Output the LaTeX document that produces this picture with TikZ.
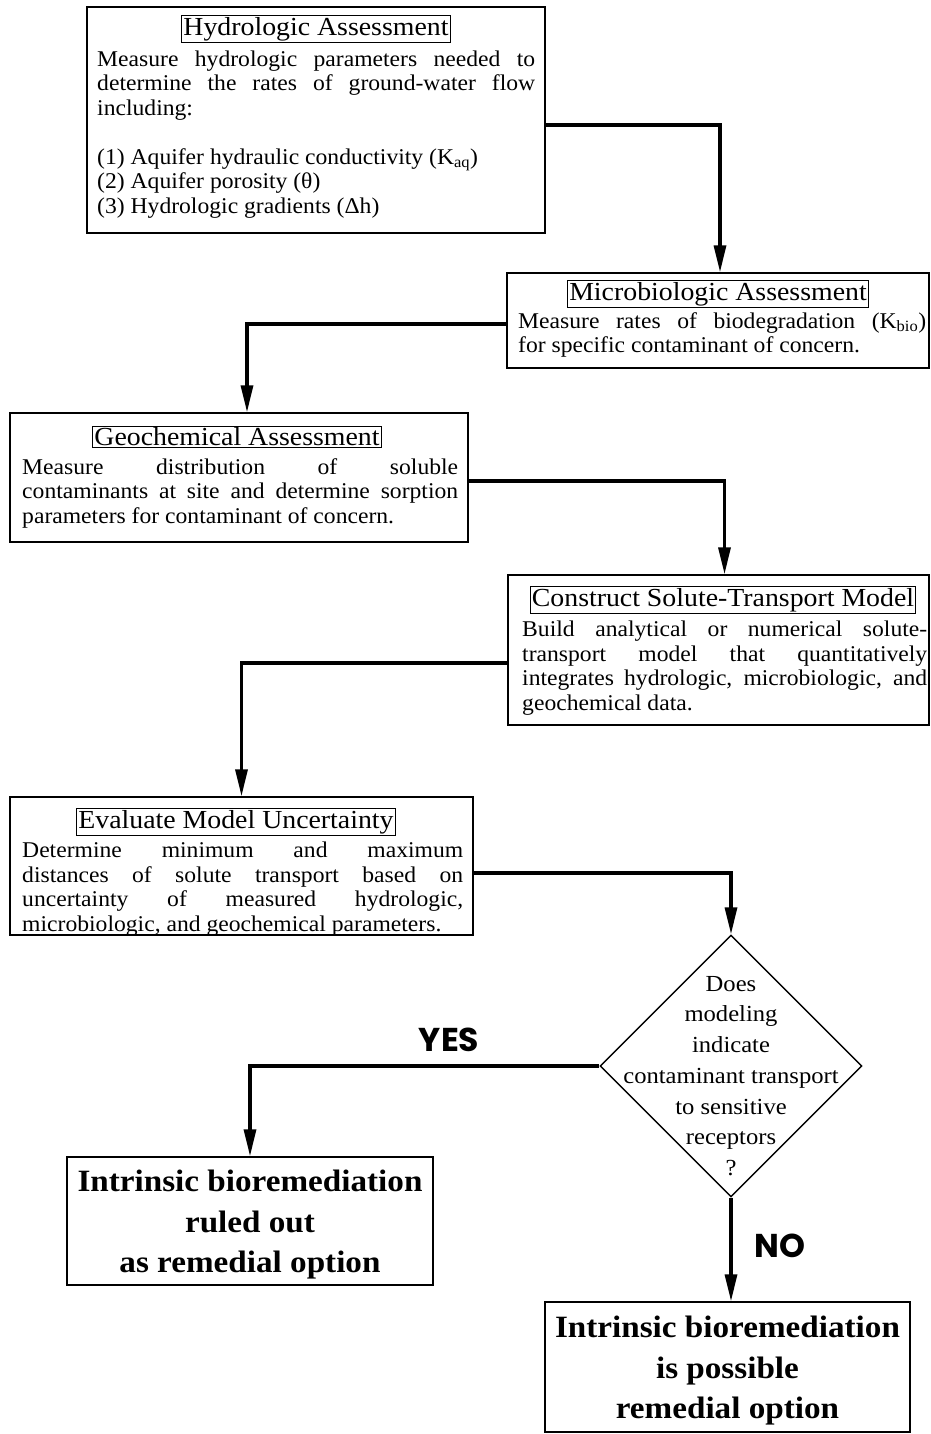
\documentclass[tikz,border=0pt]{standalone}
\usepackage{fontspec}
\setmainfont{Liberation Serif}
\newfontfamily\wideserif[FakeStretch=1.07]{Liberation Serif}
\newfontfamily\bodyserif[FakeStretch=1.05]{Liberation Serif}
\newfontfamily\labelfont{Poppins}
\usetikzlibrary{arrows.meta,shapes.geometric,calc}
\begin{document}
\hyphenpenalty=10000
\tolerance=9999
\emergencystretch=20pt
\begin{tikzpicture}[x=1pt,y=-1pt,
  box/.style={draw, line width=1.4pt, inner sep=0},
  ttl/.style={draw, line width=1pt, inner sep=1.5pt, font=\wideserif\fontsize{26}{26}\selectfont},
  body/.style={anchor=north west, inner sep=0, align=justify,
    font=\bodyserif\fontsize{22.5}{24.5}\selectfont},
  big/.style={align=center, inner sep=0, font=\wideserif\fontsize{31}{40.5}\selectfont\bfseries},
  conn/.style={line width=3.3pt, -{Triangle[length=27pt,width=12pt]}},
  yn/.style={font=\labelfont\bfseries\fontsize{33}{33}\selectfont, inner sep=0}]
\useasboundingbox (0,0) rectangle (930,1434);
\fill[white] (0,0) rectangle (930,1434);

% Box 1
\node[box, minimum width=458pt, minimum height=226pt] (b1) at (316,120) {};
\node[ttl] (t1) at (316,29) {Hydrologic Assessment};
\node[body, text width=438pt] (x1) at (97,50.5) {Measure hydrologic parameters needed to\linebreak determine the rates of ground-water flow\linebreak including:\\[24.5pt]
(1) Aquifer hydraulic conductivity (K\textsubscript{aq})\\
(2) Aquifer porosity (θ)\\
(3) Hydrologic gradients (Δh)};

% Box 2
\node[box, minimum width=422pt, minimum height=95pt] (b2) at (718,320.5) {};
\node[ttl] (t2) at (718,294) {Microbiologic Assessment};
\node[body, text width=408pt] (x2) at (518,312) {Measure rates of biodegradation (K\textsubscript{bio})\linebreak for specific contaminant of concern.};

% Box 3
\node[box, minimum width=458pt, minimum height=129pt] (b3) at (239,477.5) {};
\node[ttl] (t3) at (237,437) {Geochemical Assessment};
\node[body, text width=436pt] (x3) at (22,458) {Measure distribution of soluble\linebreak contaminants at site and determine sorption\linebreak parameters for contaminant of concern.};

% Box 4
\node[box, minimum width=421pt, minimum height=150pt] (b4) at (718.5,650) {};
\node[ttl] (t4) at (723,600) {Construct Solute-Transport Model};
\node[body, text width=405pt] (x4) at (522,621) {Build analytical or numerical solute-\linebreak transport model that quantitatively\linebreak integrates hydrologic, microbiologic, and\linebreak geochemical data.};

% Box 5
\node[box, minimum width=463pt, minimum height=138pt] (b5) at (241.5,866) {};
\node[ttl] (t5) at (236,822) {Evaluate Model Uncertainty};
\node[body, text width=441pt] (x5) at (22,842) {Determine minimum and maximum\linebreak distances of solute transport based on\linebreak uncertainty of measured hydrologic,\linebreak microbiologic, and geochemical parameters.};

% Decision
\node[diamond, draw, line width=1.4pt, minimum width=262pt, minimum height=262pt, inner sep=0] (d) at (731,1066) {};
\node[align=center, inner sep=0, font=\wideserif\fontsize{23}{30.7}\selectfont] (dt) at (731,1076) {Does\\modeling\\indicate\\contaminant transport\\to sensitive\\receptors\\?};

% Outcomes
\node[box, minimum width=366pt, minimum height=128pt] (b6) at (250,1221) {};
\node[big] (x6) at (250,1225) {Intrinsic bioremediation\\ruled out\\as remedial option};
\node[box, minimum width=365pt, minimum height=130pt] (b7) at (727.5,1367) {};
\node[big] (x7) at (727.5,1371) {Intrinsic bioremediation\\is possible\\remedial option};

\node[yn] (yes) at (449,1040) {YES};
\node[yn] (no) at (780,1246) {NO};

% Connectors
\draw[conn] ([yshift=-5pt]b1.east) -| ([xshift=2pt]b2.north);
\draw[conn] ([yshift=-3.5pt]b2.west) -| ([xshift=8pt]b3.north);
\draw[conn] ([yshift=-3.5pt]b3.east) -| ([xshift=6pt]b4.north);
\draw[conn] ([yshift=-13pt]b4.west) -| (b5.north);
\draw[conn] ([yshift=-7pt]b5.east) -| (d.north);
\draw[conn] (d.west) -| (b6.north);
\draw[conn] (d.south) -- (d.south |- b7.north);
\end{tikzpicture}
\end{document}
